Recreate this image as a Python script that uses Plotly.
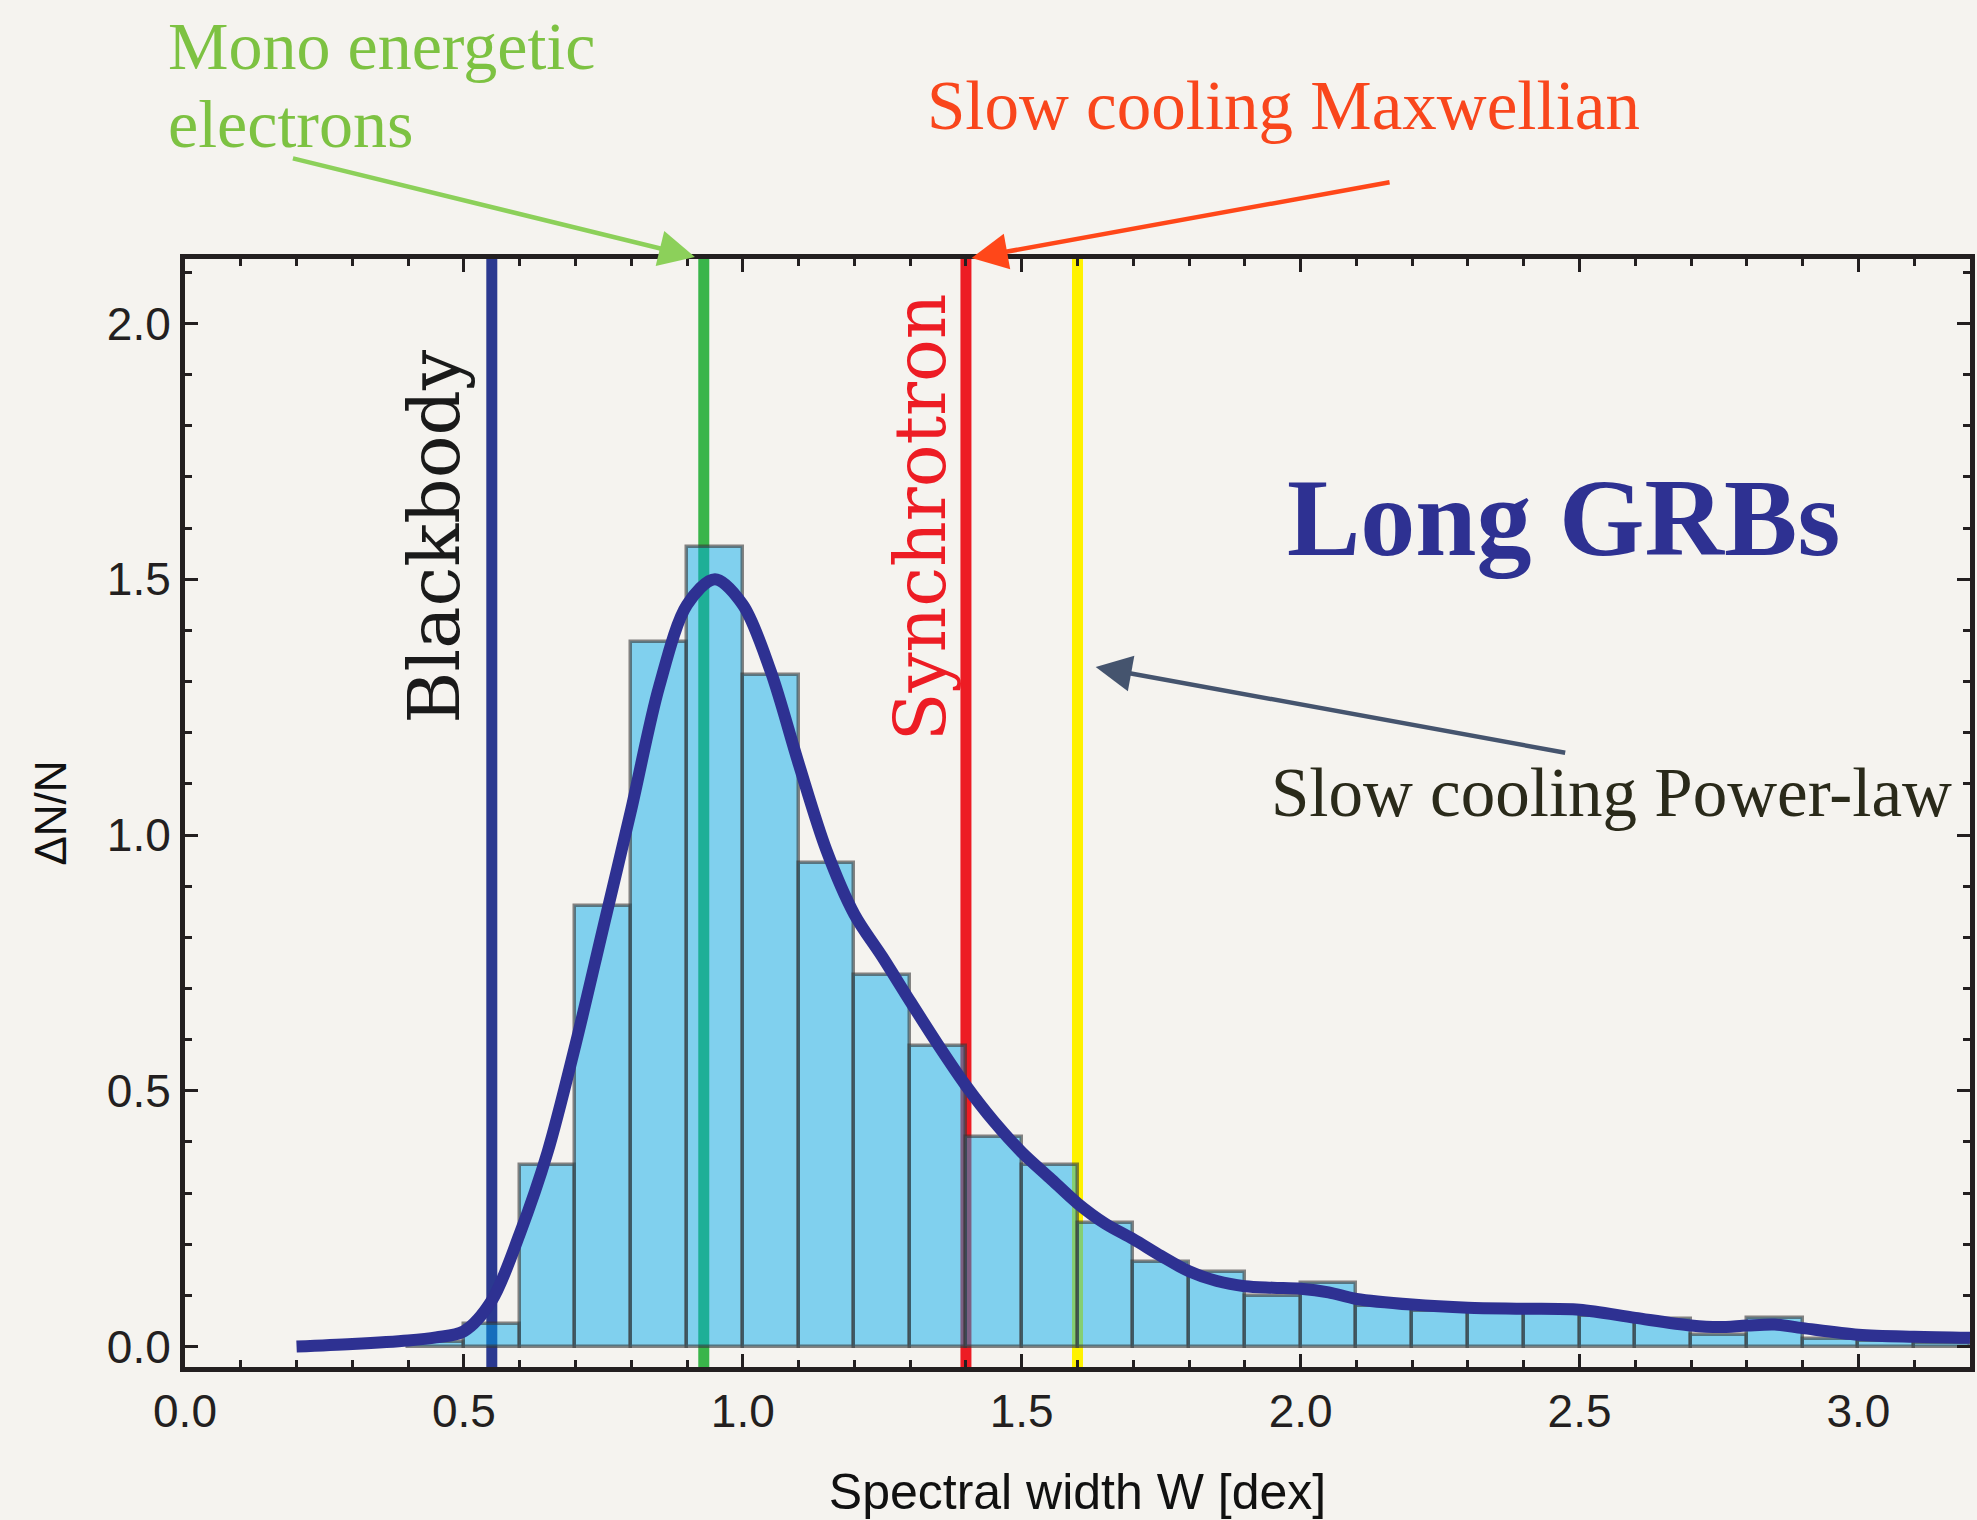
import plotly.graph_objects as go

# ---------------- data ----------------
bin_left = [0.4, 0.5, 0.6, 0.7, 0.8, 0.9, 1.0, 1.1, 1.2, 1.3, 1.4, 1.5, 1.6, 1.7,
            1.8, 1.9, 2.0, 2.1, 2.2, 2.3, 2.4, 2.5, 2.6, 2.7, 2.8, 2.9, 3.0, 3.1]
bin_height = [0.008, 0.045, 0.354, 0.861, 1.378, 1.563, 1.313, 0.945, 0.727, 0.587,
              0.41, 0.354, 0.242, 0.166, 0.146, 0.098, 0.125, 0.08, 0.069, 0.067,
              0.066, 0.06, 0.053, 0.023, 0.056, 0.014, 0.01, 0.006]
bin_width = 0.1

curve_x = [0.2, 0.3, 0.4, 0.45, 0.5, 0.55, 0.6, 0.65, 0.7, 0.75, 0.8, 0.85, 0.9, 0.95,
           1.0, 1.05, 1.1, 1.15, 1.2, 1.25, 1.3, 1.35, 1.4, 1.45, 1.5, 1.55, 1.6, 1.65,
           1.7, 1.75, 1.8, 1.85, 1.9, 1.95, 2.0, 2.05, 2.1, 2.2, 2.3, 2.4, 2.5, 2.6,
           2.7, 2.75, 2.8, 2.85, 2.9, 3.0, 3.1, 3.2]
curve_y = [0.0, 0.005, 0.012, 0.018, 0.03, 0.09, 0.22, 0.38, 0.59, 0.82, 1.05, 1.29,
           1.45, 1.50, 1.45, 1.32, 1.14, 0.97, 0.845, 0.762, 0.675, 0.59, 0.51, 0.44,
           0.38, 0.33, 0.28, 0.24, 0.21, 0.177, 0.147, 0.128, 0.118, 0.115, 0.113,
           0.106, 0.093, 0.082, 0.076, 0.074, 0.072, 0.056, 0.041, 0.038, 0.041,
           0.043, 0.036, 0.023, 0.019, 0.017]

model_names = ["Blackbody", "Mono energetic electrons", "Synchrotron", "Slow cooling Power-law"]
model_width = [0.55, 0.93, 1.40, 1.60]
model_colors = ["#2B3990", "#3AB54A", "#ED1C24", "#FFF200"]

x_ticks = [0.0, 0.5, 1.0, 1.5, 2.0, 2.5, 3.0]
y_ticks = [0.0, 0.5, 1.0, 1.5, 2.0]

# ---------------- figure ----------------
W, H = 1977, 1520
L, R, T, B = 184.5, 1975, 259, 1367
X_RANGE = [0, 3.2]
Y_RANGE = [-0.04, 2.126]


def px(x):
    return (x - L) / (R - L)


def py(y):
    return (B - y) / (B - T)


fig = go.Figure()

bin_centers = [b + bin_width / 2 for b in bin_left]
fig.add_trace(go.Bar(
    x=bin_centers, y=bin_height, width=bin_width,
    marker=dict(color="rgba(0,170,236,0.48)",
                line=dict(color="rgba(55,55,55,0.6)", width=3.5)),
    hoverinfo="skip", showlegend=False,
))

fig.add_trace(go.Scatter(
    x=curve_x, y=curve_y, mode="lines",
    line=dict(color="#2E3192", width=12, shape="spline", smoothing=0.9),
    hoverinfo="skip", showlegend=False,
))

for xv, col in zip(model_width, model_colors):
    fig.add_shape(type="line", xref="x", yref="paper", x0=xv, x1=xv, y0=0, y1=1,
                  line=dict(color=col, width=11), layer="below")

axis_common = dict(
    showline=True, linewidth=5, linecolor="#231F20", mirror="ticks",
    ticks="inside", ticklen=13, tickwidth=3, tickcolor="#231F20",
    showgrid=False, zeroline=False,
    tickfont=dict(family="Liberation Sans, Arial, sans-serif", size=46, color="#231F20"),
)

fig.update_layout(
    width=W, height=H,
    margin=dict(l=L, r=W - R, t=T, b=H - B, pad=0),
    paper_bgcolor="#F5F3EF", plot_bgcolor="#F5F3EF",
    bargap=0,
    xaxis=dict(range=X_RANGE, tickvals=x_ticks, ticktext=[f"{v:.1f}" for v in x_ticks],
               minor=dict(ticks="inside", dtick=0.1, tick0=0, ticklen=7, tickwidth=3,
                          tickcolor="#231F20"),
               title=dict(text="Spectral width W [dex]", standoff=42,
                          font=dict(family="Liberation Sans, Arial, sans-serif", size=50,
                                    color="#111111")),
               **axis_common),
    yaxis=dict(range=Y_RANGE, tickvals=y_ticks, ticktext=[f"{v:.1f}" for v in y_ticks],
               minor=dict(ticks="inside", dtick=0.1, tick0=0, ticklen=7, tickwidth=3,
                          tickcolor="#231F20"),
               title=dict(text="ΔN/N", standoff=28,
                          font=dict(family="Liberation Sans, Arial, sans-serif", size=44,
                                    color="#111111")),
               **axis_common),
)

serif = "Liberation Serif, Times New Roman, serif"
annots = []
annots.append(dict(text="Mono energetic", x=px(165), y=py(46), xanchor="left", yanchor="middle",
                   font=dict(family=serif, size=68, color="#7DC242")))
annots.append(dict(text="electrons", x=px(165), y=py(124), xanchor="left", yanchor="middle",
                   font=dict(family=serif, size=68, color="#7DC242")))
annots.append(dict(text="Slow cooling Maxwellian", x=px(927), y=py(106), xanchor="left",
                   yanchor="middle", font=dict(family=serif, size=69, color="#F9461C")))
annots.append(dict(text="Slow cooling Power-law", x=px(1272), y=py(793), xanchor="left",
                   yanchor="middle", font=dict(family=serif, size=69, color="#2A2A1A")))
annots.append(dict(text="<b>Long GRBs</b>", x=px(1567), y=py(518), xanchor="center",
                   yanchor="middle", font=dict(family=serif, size=110, color="#2E3192")))
annots.append(dict(text="Blackbody", x=px(434), y=py(537), xanchor="center", yanchor="middle",
                   textangle=-90, font=dict(family="DejaVu Serif, serif", size=71, color="#1A1A1A")))
annots.append(dict(text="Synchrotron", x=px(922), y=py(517), xanchor="center", yanchor="middle",
                   textangle=-90, font=dict(family="DejaVu Serif, serif", size=71, color="#ED1C24")))

for a in annots:
    a.update(xref="paper", yref="paper", showarrow=False)

arrows = [
    ((696, 257), (292.5, 158), "#8CD05A"),
    ((973.5, 258), (1393, 182), "#FF4719"),
    ((1098, 667), (1569, 753), "#45546E"),
]
for (tx, ty), (sx, sy), col in arrows:
    annots.append(dict(text="", x=px(tx), y=py(ty), xref="paper", yref="paper",
                       ax=sx - tx, ay=sy - ty, axref="pixel", ayref="pixel",
                       showarrow=True, arrowhead=2, arrowsize=1.6, arrowwidth=4.5,
                       arrowcolor=col, standoff=0))

fig.update_layout(annotations=annots)

fig.write_html("out.html")
